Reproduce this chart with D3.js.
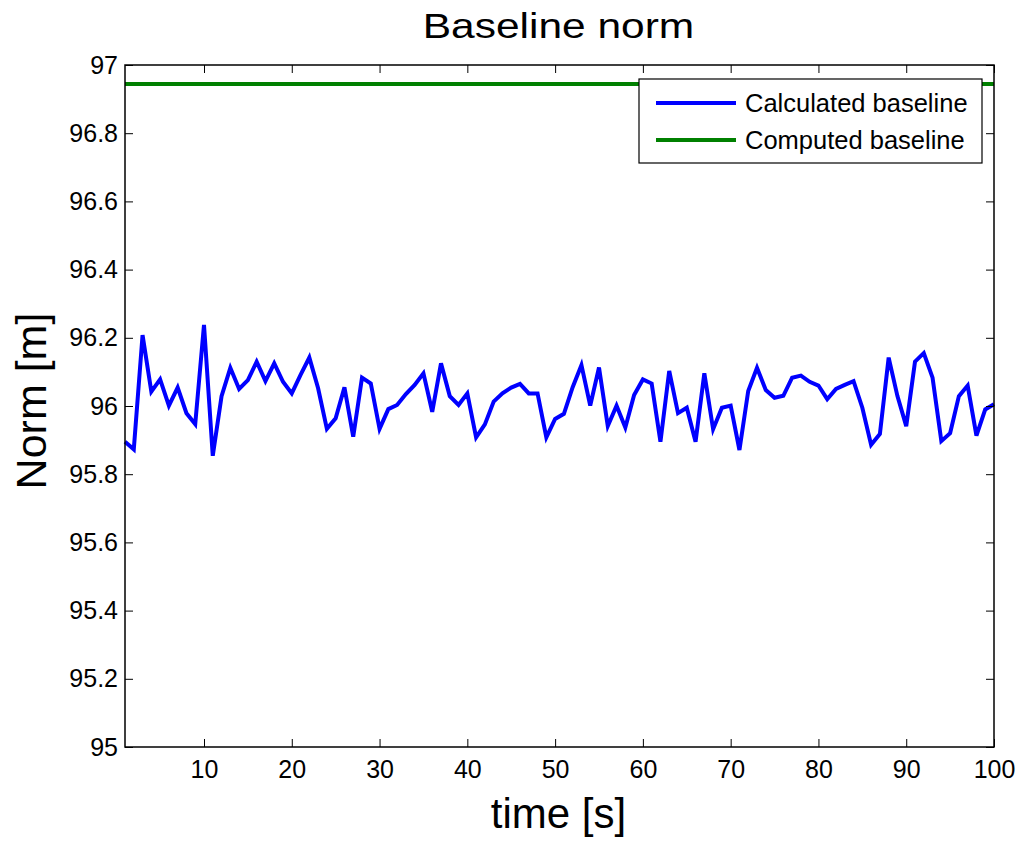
<!DOCTYPE html>
<html><head><meta charset="utf-8">
<script src="https://cdn.jsdelivr.net/npm/d3@7"></script>
<style>
html,body{margin:0;padding:0;background:#fff;}
svg{display:block;font-family:"Liberation Sans",Arial,Helvetica,sans-serif;}
</style></head>
<body>
<svg id="chart" width="1020" height="841"></svg>
<script>
// ---- data ----
const timeSeconds = d3.range(1, 101);
const calculatedBaseline = [
 95.895,95.873,96.208,96.042,96.078,96.001,96.054,95.979,95.947,96.238,
 95.854,96.029,96.112,96.050,96.076,96.130,96.073,96.125,96.071,96.037,
 96.091,96.142,96.052,95.933,95.964,96.055,95.910,96.083,96.066,95.933,
 95.991,96.003,96.035,96.062,96.096,95.983,96.125,96.029,96.003,96.037,
 95.908,95.946,96.013,96.037,96.054,96.065,96.037,96.037,95.908,95.962,
 95.977,96.055,96.120,96.001,96.113,95.941,96.001,95.937,96.032,96.078,
 96.066,95.895,96.103,95.979,95.995,95.895,96.096,95.932,95.995,96.001,
 95.871,96.044,96.112,96.047,96.024,96.030,96.083,96.089,96.071,96.060,
 96.020,96.050,96.062,96.073,95.995,95.886,95.918,96.142,96.029,95.941,
 96.130,96.155,96.083,95.897,95.920,96.029,96.060,95.913,95.990,96.005
];
const computedBaseline = 96.944;
const xTicks = [10,20,30,40,50,60,70,80,90,100];
const yTicks = [95,95.2,95.4,95.6,95.8,96,96.2,96.4,96.6,96.8,97];
const seriesNames = ["Calculated baseline","Computed baseline"];
const seriesColors = ["#0000ff","#008000"];

// ---- layout ----
const svg = d3.select("#chart");
const L = 125, R = 994, T = 65, B = 747;
const x = d3.scaleLinear().domain([1,100]).range([L,R]);
const y = d3.scaleLinear().domain([95,97]).range([B,T]);
const tickLen = 8;

svg.append("rect").attr("x",L).attr("y",T).attr("width",R-L).attr("height",B-T).attr("fill","#fff");

// data lines
const line = d3.line().x((d,i)=>x(timeSeconds[i])).y(d=>y(d));
svg.append("path").datum(calculatedBaseline).attr("d",line)
  .attr("fill","none").attr("stroke",seriesColors[0]).attr("stroke-width",4).attr("stroke-linejoin","miter");
svg.append("line").attr("x1",x(1)).attr("x2",x(100)).attr("y1",y(computedBaseline)).attr("y2",y(computedBaseline))
  .attr("stroke",seriesColors[1]).attr("stroke-width",4);

// axes
const fmt = d => String(+d.toFixed(1));
const axB = d3.axisBottom(x).tickValues(xTicks).tickSizeInner(-tickLen).tickSizeOuter(0).tickPadding(13).tickFormat(d=>d);
const axT = d3.axisTop(x).tickValues(xTicks).tickSizeInner(-tickLen).tickSizeOuter(0).tickFormat("");
const axL = d3.axisLeft(y).tickValues(yTicks).tickSizeInner(-tickLen).tickSizeOuter(0).tickPadding(7).tickFormat(fmt);
const axR = d3.axisRight(y).tickValues(yTicks).tickSizeInner(-tickLen).tickSizeOuter(0).tickFormat("");

function style(g){
  g.select(".domain").remove();
  g.selectAll(".tick line").attr("stroke","#000").attr("stroke-width",1);
  g.selectAll(".tick text").attr("fill","#000").style("font-size","25px").style("font-family","'Liberation Sans',Arial,sans-serif");
}
svg.append("g").attr("transform",`translate(0,${B})`).call(axB).call(style);
svg.append("g").attr("transform",`translate(0,${T})`).call(axT).call(style);
svg.append("g").attr("transform",`translate(${L},0)`).call(axL).call(style);
svg.append("g").attr("transform",`translate(${R},0)`).call(axR).call(style);

// frame
svg.append("rect").attr("x",L).attr("y",T).attr("width",R-L).attr("height",B-T)
  .attr("fill","none").attr("stroke","#000").attr("stroke-width",1.5);

// title & labels
svg.append("text").attr("transform",`translate(${(L+R)/2-1},38) scale(1.18,1)`).attr("text-anchor","middle")
  .style("font-size","36px").text("Baseline norm");
svg.append("text").attr("x",(L+R)/2-1).attr("y",828).attr("text-anchor","middle")
  .style("font-size","42px").text("time [s]");
svg.append("text").attr("transform",`translate(46,401) rotate(-90)`).attr("text-anchor","middle")
  .style("font-size","43px").text("Norm [m]");

// legend
const lg = svg.append("g");
lg.append("rect").attr("x",639).attr("y",79).attr("width",343).attr("height",84)
  .attr("fill","#fff").attr("stroke","#000").attr("stroke-width",1.2);
seriesNames.forEach((n,i)=>{
  const yy = 103 + i*37;
  lg.append("line").attr("x1",656).attr("x2",736).attr("y1",yy).attr("y2",yy)
    .attr("stroke",seriesColors[i]).attr("stroke-width",4);
  lg.append("text").attr("x",745).attr("y",yy).attr("dy","0.35em")
    .style("font-size","25.5px").text(n);
});
</script>
</body></html>
